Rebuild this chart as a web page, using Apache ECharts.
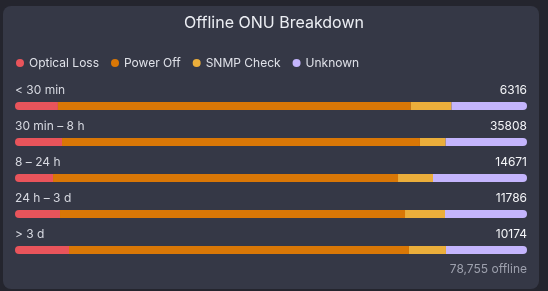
<!DOCTYPE html>
<html>
<head>
<meta charset="utf-8">
<script src="https://cdn.jsdelivr.net/npm/echarts@6/dist/echarts.min.js"></script>
<style>
  html, body { margin: 0; padding: 0; background: #24252e; }
  #chart { width: 548px; height: 291px; }
</style>
</head>
<body>
<div id="chart"></div>
<script>
const buckets = ['< 30 min', '30 min – 8 h', '8 – 24 h', '24 h – 3 d', '> 3 d']
const seriesNames = ['Optical Loss', 'Power Off', 'SNMP Check', 'Unknown']
const opticalLoss = [530, 3287, 1089, 1036, 1073]
const powerOff = [4353, 25036, 9886, 7942, 6756]
const snmpCheck = [502, 1798, 1003, 921, 735]
const unknown = [931, 5687, 2693, 1887, 1610]
const colors = ['#e9545b', '#d97706', '#ebae3b', '#c4b5fd']

const counts = [opticalLoss, powerOff, snmpCheck, unknown]
const totals = buckets.map((b, i) => counts.reduce((s, arr) => s + arr[i], 0))
const grandTotal = totals.reduce((a, b) => a + b, 0)

const font = 'Inter, "Noto Sans", sans-serif'

// every bar is shown as share of its own row total
const series = counts.map((arr, k) => {
  const s = {
    name: seriesNames[k],
    type: 'bar',
    stack: 'all',
    barWidth: 8,
    itemStyle: { color: colors[k] },
    data: arr.map((v, i) => v / totals[i] * 100)
  }
  if (k === 0) {
    s.itemStyle.borderRadius = [4, 0, 0, 4]
    s.label = {
      show: true,
      position: [0, -6],
      align: 'left',
      verticalAlign: 'bottom',
      color: '#d6d8e0',
      fontSize: 12,
      fontFamily: font,
      formatter: p => buckets[p.dataIndex]
    }
  }
  if (k === counts.length - 1) {
    s.itemStyle.borderRadius = [0, 4, 4, 0]
    s.label = {
      show: true,
      position: ['100%', -6],
      align: 'right',
      verticalAlign: 'bottom',
      color: '#f4f5f8',
      fontSize: 12,
      fontFamily: font,
      formatter: p => String(totals[p.dataIndex])
    }
  }
  return s
})

const myChart = echarts.init(document.getElementById('chart'))
myChart.setOption({
  animation: false,
  color: colors,
  graphic: [
    {
      type: 'rect',
      z: -10,
      shape: { x: 3, y: 6, width: 536, height: 283, r: 8 },
      style: { fill: '#353846' }
    },
    {
      type: 'text',
      right: 21,
      top: 263,
      style: {
        text: grandTotal.toLocaleString('en-US') + ' offline',
        fill: '#9da0ad',
        fontSize: 12,
        fontFamily: font
      }
    }
  ],
  title: {
    text: 'Offline ONU Breakdown',
    left: 'center',
    top: 10,
    textStyle: { color: '#eceef3', fontSize: 16, fontWeight: 'normal', fontFamily: font }
  },
  legend: {
    left: 11,
    top: 52,
    icon: 'circle',
    itemWidth: 8,
    itemHeight: 8,
    itemGap: 12,
    textStyle: { color: '#dfe1e8', fontSize: 12, fontFamily: font },
    data: seriesNames
  },
  grid: {
    left: 15,
    right: 21,
    top: 88,
    height: 180
  },
  xAxis: {
    type: 'value',
    min: 0,
    max: 100,
    show: false
  },
  yAxis: {
    type: 'category',
    inverse: true,
    data: buckets,
    show: false
  },
  series: series
})
</script>
</body>
</html>
